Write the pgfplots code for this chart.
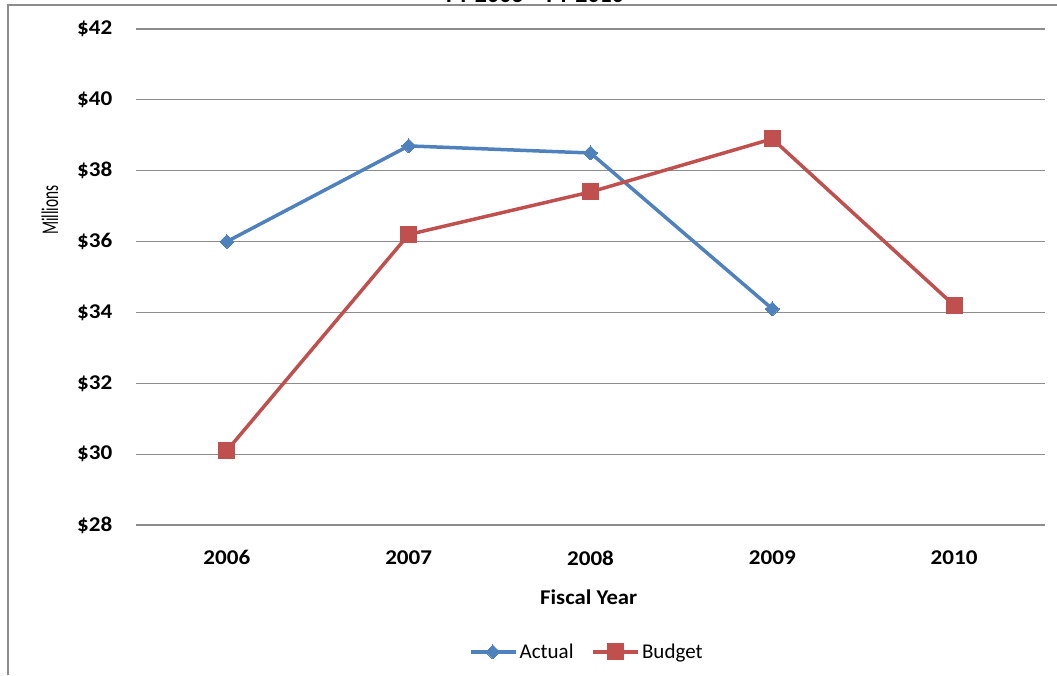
\documentclass[border=0pt]{standalone}
\usepackage{pgfplots}
\pgfplotsset{compat=1.18}
\usepackage{fontspec}
\setmainfont{Carlito}
\definecolor{actblue}{HTML}{4F81BD}
\definecolor{budred}{HTML}{C0504D}
\definecolor{gridgray}{HTML}{8C8C8C}
\begin{document}
\begin{tikzpicture}[x=1pt,y=1pt]
\useasboundingbox (0,0) rectangle (1057,675);
\clip (0,0) rectangle (1057,675);
\node[anchor=base,font=\fontsize{24}{28}\selectfont\bfseries] at (535,672) {FY 2006 -- FY 2010};
\draw[gridgray,line width=2pt] (7.5,0) -- (7.5,669.5) -- (1060,669.5);
\begin{axis}[
  at={(136pt,150pt)}, anchor=south west,
  scale only axis, width=909pt, height=496pt,
  xmin=-0.5, xmax=4.5, ymin=28, ymax=42,
  axis line style={draw=none},
  ymajorgrids, grid style={gridgray,line width=1.2pt},
  major tick length=0pt, tick style={draw=none},
  xtick={0,1,2,3,4}, xticklabels={2006,2007,2008,2009,2010},
  ytick={28,30,32,34,36,38,40,42},
  yticklabels={\$28,\$30,\$32,\$34,\$36,\$38,\$40,\$42},
  xticklabel style={font=\fontsize{21}{25}\selectfont\bfseries, xscale=1.1, yshift=-22pt},
  yticklabel style={font=\fontsize{21}{25}\selectfont\bfseries, xscale=1.1, xshift=-18pt},
  xlabel={Fiscal Year}, ylabel={Millions},
  xlabel style={font=\fontsize{21}{25}\selectfont\bfseries, xscale=1.08, at={(axis description cs:0.498,-0.145)}, anchor=center},
  ylabel style={font=\fontsize{24}{28}\selectfont, xscale=0.64, at={(axis description cs:-0.0946,0.635)}, anchor=center},
  legend style={at={(axis description cs:0.496,-0.256)}, anchor=center, draw=none, fill=none,
    legend columns=2, font=\fontsize{21}{25}\selectfont,
    /tikz/every even column/.append style={column sep=16pt}},
  legend image code/.code={\draw[mark repeat=2,mark phase=2,#1] plot coordinates {(0pt,0pt) (22pt,0pt) (45pt,0pt)};},
  clip=false,
]
\addplot[actblue, line width=3.5pt, mark=diamond*, mark size=7pt, mark options={xscale=1.35, line width=0pt}]
  coordinates {(0,36.0) (1,38.7) (2,38.5) (3,34.1)};
\addlegendentry{Actual}
\addplot[budred, line width=3.5pt, mark=square*, mark size=8pt, mark options={line width=0pt}]
  coordinates {(0,30.1) (1,36.2) (2,37.4) (3,38.9) (4,34.2)};
\addlegendentry{Budget}
\end{axis}
\end{tikzpicture}
\end{document}
